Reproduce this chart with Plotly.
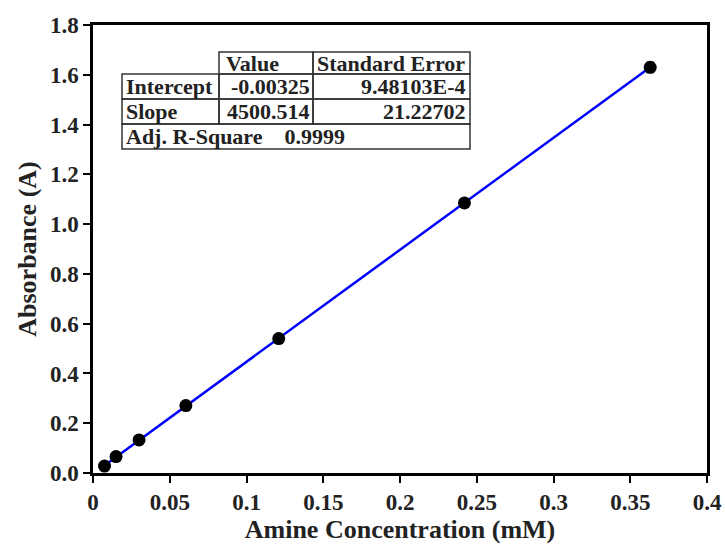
import plotly.graph_objects as go

# Data
conc = [0.0075, 0.015, 0.030, 0.0605, 0.121, 0.242, 0.363]
absorb = [0.028, 0.066, 0.133, 0.271, 0.540, 1.085, 1.630]
err = [0.004, 0.005, 0.006, 0.008, 0.010, 0.012, 0.021]

intercept = -0.00325
slope_plot = 4.500514  # per mM on plotted axis
fit_x = [conc[0], conc[-1]]
fit_y = [intercept + slope_plot * v for v in fit_x]

xtick_vals = [0, 0.05, 0.1, 0.15, 0.2, 0.25, 0.3, 0.35, 0.4]
xtick_text = ["0", "0.05", "0.1", "0.15", "0.2", "0.25", "0.3", "0.35", "0.4"]

table_header = ["Value", "Standard Error"]
table_rows = [["Intercept", "-0.00325", "9.48103E-4"],
              ["Slope", "4500.514", "21.22702"]]
adj_r2_label = "Adj. R-Square"
adj_r2_value = "0.9999"

W, H = 725, 546
L, R, T, B = 93, 18, 25, 73
PW, PH = W - L - R, H - T - B

def px(x):  # window pixel -> paper
    return (x - L) / PW

def py(y):
    return (H - B - y) / PH

FONT = "Liberation Serif"
TXT = "#222222"

fig = go.Figure()
fig.add_trace(go.Scatter(x=fit_x, y=fit_y, mode="lines",
                         line=dict(color="#0000ff", width=2.5),
                         hoverinfo="skip", showlegend=False))
fig.add_trace(go.Scatter(x=conc, y=absorb, mode="markers",
                         marker=dict(color="black", size=13),
                         error_y=dict(type="data", array=err, color="#555555",
                                      thickness=1.2, width=4),
                         showlegend=False))

tickfont = dict(family=FONT, size=23, color=TXT, weight="bold")
axis_common = dict(showline=True, linecolor="black", linewidth=2.5,
                   mirror=True, ticks="outside", ticklen=7, tickwidth=2,
                   tickcolor="black", showgrid=False, zeroline=False,
                   automargin=False, tickfont=tickfont,
                   ticklabeloverflow="allow")

fig.update_layout(
    width=W, height=H,
    margin=dict(l=L, r=R, t=T, b=B, pad=0),
    plot_bgcolor="white", paper_bgcolor="white",
    xaxis=dict(range=[0, 0.4], tickvals=xtick_vals, ticktext=xtick_text,
               title=dict(text="Amine Concentration (mM)", standoff=2,
                          font=dict(family=FONT, size=26, color=TXT, weight="bold")),
               **axis_common),
    yaxis=dict(range=[0, 1.8], dtick=0.2, tickformat=".1f",
               title=dict(text="Absorbance (A)", standoff=6,
                          font=dict(family=FONT, size=26, color=TXT, weight="bold")),
               **axis_common),
    font=dict(family=FONT, color=TXT),
)

# Table geometry (window pixels)
x0, x1, x2, x3 = 122, 219, 313, 470
ys = [52, 74, 99, 124, 149]
line = dict(color="#333333", width=1.5)
shapes = []
def rect(a, b, c, d):
    shapes.append(dict(type="rect", xref="paper", yref="paper",
                       x0=px(a), x1=px(b), y0=py(d), y1=py(c), line=line,
                       fillcolor="rgba(0,0,0,0)"))
rect(x1, x2, ys[0], ys[1])
rect(x2, x3, ys[0], ys[1])
for i in range(2):
    rect(x0, x1, ys[i + 1], ys[i + 2])
    rect(x1, x2, ys[i + 1], ys[i + 2])
    rect(x2, x3, ys[i + 1], ys[i + 2])
rect(x0, x3, ys[3], ys[4])
fig.update_layout(shapes=shapes)

def txt(s, x, y, anchor):
    fig.add_annotation(text=s, xref="paper", yref="paper",
                       x=px(x), y=py(y), xanchor=anchor, yanchor="middle",
                       showarrow=False,
                       font=dict(family=FONT, size=22, color=TXT, weight="bold"))

ymid = [(ys[i] + ys[i + 1]) / 2 for i in range(4)]
txt(table_header[0], x1 + 5, ymid[0], "left")
txt(table_header[1], x2 + 2, ymid[0], "left")
for i, row in enumerate(table_rows):
    txt(row[0], x0 + 2, ymid[i + 1], "left")
    txt(row[1], x2 - 1, ymid[i + 1], "right")
    txt(row[2], x3 - 2, ymid[i + 1], "right")
txt(adj_r2_label + "&nbsp;&nbsp;&nbsp;&nbsp;" + adj_r2_value, x0 + 2, ymid[3], "left")

fig.write_html("out.html", config={"displayModeBar": False},
               post_script="document.body.style.margin='0';document.body.style.overflow='hidden';")
